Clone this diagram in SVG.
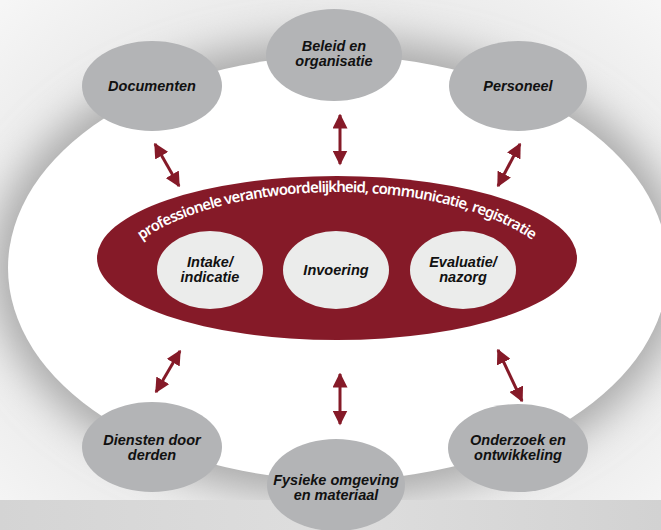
<svg xmlns="http://www.w3.org/2000/svg" width="661" height="530" viewBox="0 0 661 530">
<defs>
<style>
.outer{fill:#b3b4b6}
.inner{fill:#ebeceb}
.lbl{font-family:"Liberation Sans","Noto Sans",sans-serif;font-weight:bold;font-style:italic;font-size:14.5px;fill:#111;text-anchor:middle}
.arr{stroke:#851a28;stroke-width:3;fill:none;marker-start:url(#ah);marker-end:url(#ah)}
.arc{font-family:"Noto Sans","Open Sans","Liberation Sans",sans-serif;font-weight:600;font-size:15px;fill:#fff}
</style>
<marker id="ah" viewBox="0 0 10 10" refX="9" refY="5" markerWidth="5" markerHeight="5" orient="auto-start-reverse" markerUnits="strokeWidth">
<path d="M0,0 L10,5 L0,10 z" fill="#851a28"/>
</marker>
<radialGradient id="bg" cx="50%" cy="50%" r="70%">
<stop offset="0" stop-color="#d0d0d0"/>
<stop offset="1" stop-color="#f6f6f6"/>
</radialGradient>
<linearGradient id="band" x1="0" y1="0" x2="1" y2="0">
<stop offset="0" stop-color="#d4d4d4"/>
<stop offset="0.5" stop-color="#dedede"/>
<stop offset="1" stop-color="#d2d2d2"/>
</linearGradient>
<filter id="blur" x="-30%" y="-30%" width="160%" height="160%">
<feGaussianBlur stdDeviation="20"/>
</filter>
<path id="arcpath" d="M107,294 A230,102 0 0 1 567,294"/>
</defs>
<rect width="661" height="530" fill="url(#bg)"/>
<ellipse cx="338" cy="268" rx="345" ry="228" fill="#a9a9a9" filter="url(#blur)"/>
<rect x="0" y="500" width="661" height="30" fill="url(#band)"/>
<ellipse cx="338" cy="268" rx="330" ry="212" fill="#ffffff"/>
<g id="core">
<ellipse cx="337" cy="258" rx="240" ry="82" fill="#851a28"/>
<text class="arc"><textPath href="#arcpath" startOffset="50%" text-anchor="middle" textLength="408" lengthAdjust="spacing">professionele verantwoordelijkheid, communicatie, registratie</textPath></text>
</g>
<g id="intake"><ellipse class="inner" cx="210" cy="270" rx="53" ry="39"/><text class="lbl" x="210" y="267">Intake/</text><text class="lbl" x="210" y="282">indicatie</text></g>
<g id="invoering"><ellipse class="inner" cx="336" cy="270" rx="53" ry="39"/><text class="lbl" x="336" y="275">Invoering</text></g>
<g id="evaluatie"><ellipse class="inner" cx="463" cy="270" rx="53" ry="39"/><text class="lbl" x="463" y="267">Evaluatie/</text><text class="lbl" x="463" y="282">nazorg</text></g>
<g id="connectors">
<line class="arr" x1="155" y1="144" x2="179" y2="186"/>
<line class="arr" x1="340" y1="115" x2="340" y2="164"/>
<line class="arr" x1="520" y1="144" x2="498" y2="186"/>
<line class="arr" x1="180" y1="351" x2="156" y2="392"/>
<line class="arr" x1="340" y1="374" x2="340" y2="424"/>
<line class="arr" x1="498" y1="350" x2="522" y2="401"/>
</g>
<g id="documenten"><ellipse class="outer" cx="152" cy="86" rx="70" ry="45"/><text class="lbl" x="152" y="91">Documenten</text></g>
<g id="beleid"><ellipse class="outer" cx="334" cy="55" rx="68" ry="46"/><text class="lbl" x="334" y="51">Beleid en</text><text class="lbl" x="334" y="66">organisatie</text></g>
<g id="personeel"><ellipse class="outer" cx="518" cy="86" rx="69" ry="45"/><text class="lbl" x="518" y="91">Personeel</text></g>
<g id="diensten"><ellipse class="outer" cx="152" cy="447" rx="70" ry="45"/><text class="lbl" x="152" y="445">Diensten door</text><text class="lbl" x="152" y="460">derden</text></g>
<g id="fysieke"><ellipse class="outer" cx="336" cy="485" rx="69" ry="46"/><text class="lbl" x="336" y="485">Fysieke omgeving</text><text class="lbl" x="336" y="500">en materiaal</text></g>
<g id="onderzoek"><ellipse class="outer" cx="518" cy="448" rx="70" ry="44"/><text class="lbl" x="518" y="445">Onderzoek en</text><text class="lbl" x="518" y="460">ontwikkeling</text></g>
</svg>
